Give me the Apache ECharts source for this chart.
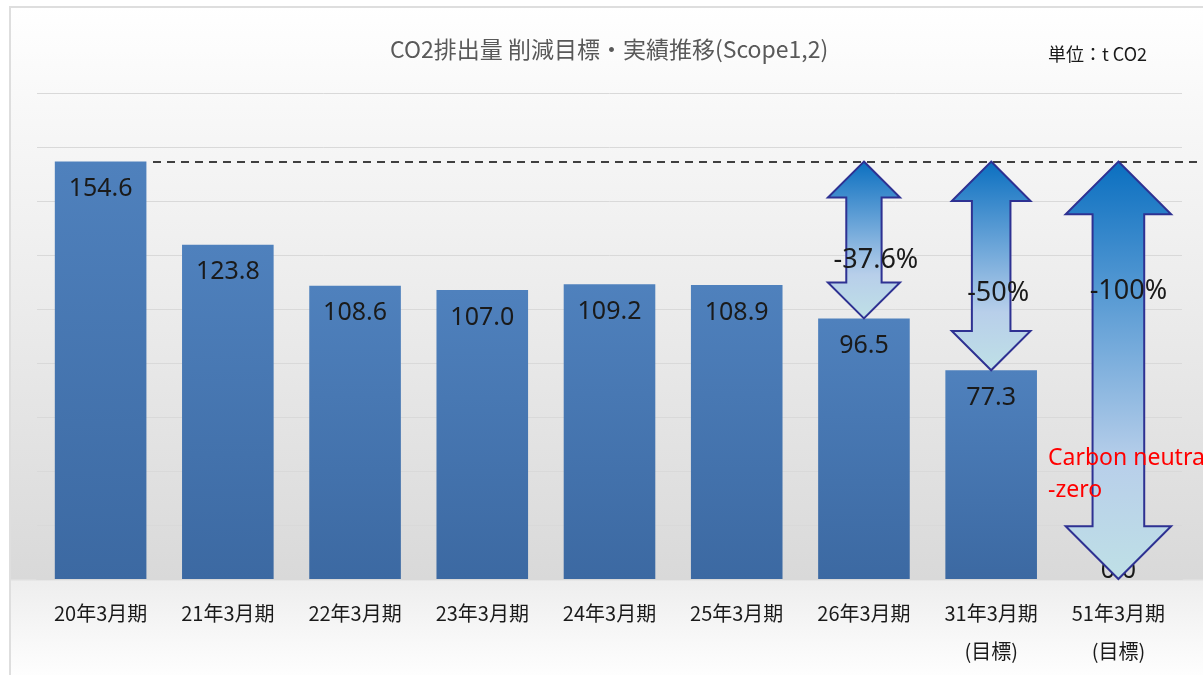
<!DOCTYPE html>
<html>
<head>
<meta charset="utf-8">
<script src="https://cdn.jsdelivr.net/npm/echarts@6/dist/echarts.min.js"></script>
<style>
  html, body { margin: 0; padding: 0; background: #fff; }
  #chart { width: 1203px; height: 675px; }
</style>
</head>
<body>
<div id="chart"></div>
<script>
// data
const categories = ['20年3月期', '21年3月期', '22年3月期', '23年3月期', '24年3月期', '25年3月期', '26年3月期', '31年3月期\n(目標)', '51年3月期\n(目標)']
const emissions = [154.6, 123.8, 108.6, 107.0, 109.2, 108.9, 96.5, 77.3, 0.0]
const baseValue = 154.6
// arrows: [category index, from, to, label]
const reductionArrows = [
  [6, 154.6, 96.5, '-37.6%'],
  [7, 154.6, 77.3, '-50%'],
  [8, 154.6, 0, '-100%']
]
const yTicks = { min: 0, max: 180, interval: 20 }

const chart = echarts.init(document.getElementById('chart'))

// label placement along the arrow (fraction from top) and x shift
const arrowLabelPos = [
  { t: 0.63, dx: 12 },
  { t: 0.63, dx: 7 },
  { t: 0.31, dx: 10 }
]

const arrowFill = new echarts.graphic.LinearGradient(0, 0, 0, 1, [
  { offset: 0, color: '#0a6fc0' },
  { offset: 0.45, color: '#76abdb' },
  { offset: 0.72, color: '#b8cfea' },
  { offset: 1, color: '#bfe0e6' }
])

const renderArrow = (params, api) => {
  const idx = api.value(0)
  const top = api.coord([idx, api.value(1)])
  const bot = api.coord([idx, api.value(2)])
  const cx = top[0]
  const len = bot[1] - top[1]
  const head = 26 + 0.064 * len
  const shaft = head * 0.49
  const headH = head * 1.0
  const pts = [
    [cx, top[1]],
    [cx + head, top[1] + headH],
    [cx + shaft, top[1] + headH],
    [cx + shaft, bot[1] - headH],
    [cx + head, bot[1] - headH],
    [cx, bot[1]],
    [cx - head, bot[1] - headH],
    [cx - shaft, bot[1] - headH],
    [cx - shaft, top[1] + headH],
    [cx - head, top[1] + headH]
  ]
  const lp = arrowLabelPos[params.dataIndex]
  return {
    type: 'group',
    children: [
      {
        type: 'polygon',
        shape: { points: pts },
        style: { fill: arrowFill, stroke: '#2e3192', lineWidth: 2 }
      },
      {
        type: 'text',
        x: cx + lp.dx,
        y: top[1] + len * lp.t,
        style: {
          text: api.value(3),
          fill: '#1a1a1a',
          font: '27px "Noto Sans"',
          align: 'center',
          verticalAlign: 'middle'
        }
      }
    ]
  }
}

chart.setOption({
  backgroundColor: '#ffffff',
  animation: false,
  title: [
    {
      text: 'CO2排出量 削減目標・実績推移(Scope1,2)',
      left: 385,
      top: 33,
      textStyle: {
        fontFamily: '"Noto Sans CJK JP"',
        fontWeight: 'normal',
        fontSize: 23,
        color: '#595959'
      }
    },
    {
      text: '単位：t CO2',
      left: 1043,
      top: 40,
      textStyle: {
        fontFamily: '"Noto Sans CJK JP"',
        fontWeight: 'normal',
        fontSize: 18,
        color: '#1a1a1a'
      }
    }
  ],
  graphic: [
    {
      type: 'rect',
      z: -10,
      silent: true,
      shape: { x: 10, y: 7, width: 1200, height: 675 },
      style: {
        fill: new echarts.graphic.LinearGradient(0, 0, 0, 1, [
          { offset: 0, color: '#ffffff' },
          { offset: 0.15, color: '#f8f8f8' },
          { offset: 0.5, color: '#e9e9e9' },
          { offset: 0.846, color: '#d9d9d9' },
          { offset: 0.85, color: '#eeeeee' },
          { offset: 1, color: '#ffffff' }
        ]),
        stroke: '#dedede',
        lineWidth: 2
      }
    },
    {
      type: 'text',
      left: 1048,
      top: 442,
      z: 100,
      style: {
        text: 'Carbon neutral\n-zero',
        fill: '#ff0000',
        font: '23px "Noto Sans"',
        lineHeight: 32
      }
    }
  ],
  grid: {
    left: 37,
    right: 21,
    top: 93,
    bottom: 96
  },
  xAxis: {
    type: 'category',
    data: categories,
    axisTick: { show: false },
    axisLine: { lineStyle: { color: '#d9d9d9', width: 2 } },
    axisLabel: {
      color: '#1a1a1a',
      fontSize: 20,
      fontFamily: '"Noto Sans CJK JP"',
      margin: 15,
      lineHeight: 38,
      interval: 0
    }
  },
  yAxis: {
    type: 'value',
    min: yTicks.min,
    max: yTicks.max,
    interval: yTicks.interval,
    axisLabel: { show: false },
    axisLine: { show: false },
    axisTick: { show: false },
    splitLine: { lineStyle: { color: '#d9d9d9', width: 1 } }
  },
  series: [
    {
      type: 'bar',
      barWidth: '72%',
      z: 2,
      data: emissions.map((v, i) => (i === emissions.length - 1
        ? { value: v, label: { position: 'top', distance: -4 } }
        : v)),
      itemStyle: {
        color: new echarts.graphic.LinearGradient(0, 0, 0, 1, [
          { offset: 0, color: '#4f81bd' },
          { offset: 1, color: '#3c69a2' }
        ])
      },
      label: {
        show: true,
        position: 'insideTop',
        distance: 15,
        color: '#1a1a1a',
        fontSize: 25,
        fontFamily: '"Noto Sans"',
        formatter: (p) => p.value.toFixed(1)
      },
      markLine: {
        silent: true,
        symbol: 'none',
        label: { show: false },
        lineStyle: { color: '#404040', width: 2, type: [8, 6] },
        data: [[
          { coord: [0, baseValue], x: 153 },
          { coord: [categories.length - 1, baseValue], x: 1203 }
        ]]
      }
    },
    {
      type: 'custom',
      z: 5,
      renderItem: renderArrow,
      data: reductionArrows
    }
  ]
})
</script>
</body>
</html>
